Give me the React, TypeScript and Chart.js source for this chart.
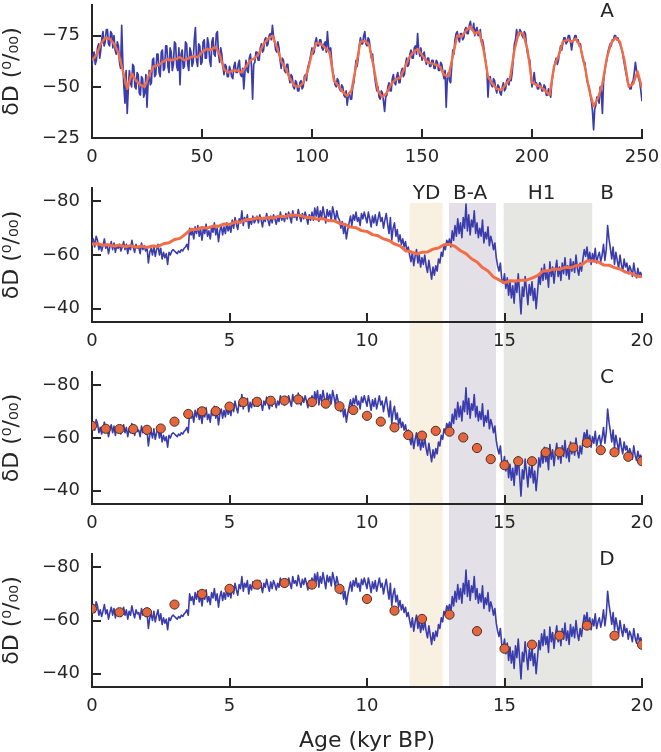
import React, { useEffect, useRef } from "react";
import { Chart, registerables } from "chart.js";

Chart.register(...registerables);

// ---------------- data ----------------
// Panel A: 0–250 kyr record (blue, 0.5 kyr step) and its smoothed curve (orange, 2 kyr step)
const aBlueStep = 0.5;
const aBlue = [
  -60, -66, -67, -61, -63, -69, -71, -64, -68, -74, -77, -70, -72, -78, -78, -71, -70, -77, -76, -69,
  -75, -68, -66, -72, -70, -62, -59, -80, -62, -50, -42, -58, -37, -49, -58, -52, -50, -61, -60, -50,
  -49, -57, -56, -47, -46, -55, -54, -45, -47, -56, -40, -52, -58, -51, -52, -63, -64, -55, -56, -66,
  -66, -57, -55, -67, -68, -58, -59, -70, -70, -60, -57, -69, -67, -58, -61, -72, -71, -60, -58, -69,
  -51, -66, -68, -59, -60, -72, -71, -61, -58, -69, -67, -60, -62, -73, -79, -63, -60, -71, -70, -61,
  -62, -72, -73, -64, -64, -74, -71, -63, -60, -72, -74, -66, -65, -76, -77, -66, -62, -69, -66, -60,
  -56, -61, -60, -55, -55, -60, -58, -55, -54, -60, -62, -57, -57, -61, -63, -56, -55, -59, -49, -57,
  -63, -58, -57, -64, -66, -60, -44, -61, -62, -67, -67, -63, -63, -69, -71, -67, -68, -73, -74, -70,
  -71, -75, -76, -73, -80, -75, -72, -68, -67, -72, -69, -63, -59, -64, -63, -58, -57, -61, -61, -55,
  -52, -56, -55, -50, -49, -53, -52, -48, -48, -52, -53, -49, -50, -55, -56, -53, -59, -61, -63, -66,
  -69, -66, -67, -72, -74, -70, -70, -73, -73, -69, -68, -71, -72, -67, -77, -70, -66, -69, -62, -57,
  -55, -51, -50, -54, -53, -49, -48, -51, -50, -46, -45, -48, -41, -46, -47, -44, -44, -50, -52, -57,
  -63, -60, -64, -70, -74, -71, -71, -75, -77, -71, -70, -74, -73, -68, -64, -66, -60, -55, -51, -48,
  -50, -45, -44, -48, -47, -43, -38, -45, -46, -50, -52, -48, -48, -54, -56, -52, -51, -55, -57, -52,
  -52, -57, -59, -55, -56, -61, -64, -60, -61, -66, -68, -64, -64, -69, -70, -66, -76, -68, -65, -69,
  -63, -66, -67, -63, -61, -64, -64, -60, -60, -63, -63, -59, -59, -63, -62, -58, -58, -62, -61, -57,
  -54, -58, -40, -54, -57, -53, -52, -60, -68, -66, -73, -76, -77, -74, -72, -76, -76, -73, -74, -78,
  -79, -76, -76, -80, -82, -78, -78, -81, -75, -78, -79, -75, -76, -78, -72, -73, -70, -66, -62, -58,
  -45, -54, -55, -51, -50, -54, -53, -49, -47, -51, -50, -47, -46, -50, -52, -48, -49, -53, -54, -51,
  -55, -53, -57, -64, -71, -73, -78, -75, -75, -78, -77, -75, -74, -77, -76, -70, -66, -64, -63, -55,
  -50, -53, -57, -52, -52, -49, -49, -52, -51, -48, -48, -51, -50, -46, -46, -49, -47, -45, -52, -56,
  -59, -62, -64, -61, -63, -67, -70, -68, -71, -74, -74, -71, -72, -75, -75, -72, -68, -72, -73, -75,
  -75, -72, -73, -70, -71, -67, -64, -62, -62, -57, -53, -51, -50, -46, -43, -38, -29, -39, -41, -45,
  -45, -42, -50, -48, -37, -52, -57, -61, -63, -67, -69, -71, -70, -73, -73, -75, -75, -73, -74, -72,
  -71, -69, -68, -64, -61, -58, -55, -52, -51, -49, -49, -52, -53, -57, -62, -58, -56, -54, -52, -48,
  -43,
];
const aOrangeStep = 2;
const aOrange = [
  -63, -65.5, -71, -74, -73.5, -71, -66.5, -58, -49, -56.5,
  -53, -51, -50, -56, -60, -60.5, -62, -63.5, -63, -63.5,
  -64.5, -63, -64, -65, -64.5, -67, -68.5, -68, -69.5, -66,
  -58.5, -57, -58, -58, -57, -60, -63, -64, -66.5, -71,
  -73.5, -75, -69.5, -62.5, -59, -54, -50.5, -50, -52, -57.5,
  -66.5, -71.5, -71, -69, -67, -53, -50.5, -47.5, -45.5, -48.5,
  -60, -72, -72.5, -70.5, -60, -48, -45, -47, -51.5, -53.5,
  -54.5, -59, -64, -67, -68.5, -65.5, -62.5, -61.5, -61, -60,
  -56, -55, -65, -75, -74.5, -77.5, -79.5, -76, -77, -68,
  -55, -51.5, -49, -48.5, -51, -54, -68, -76.5, -76, -68,
  -52, -51, -50, -48, -46, -60, -65, -72, -73, -72,
  -73.5, -69.5, -60, -48.5, -40.5, -44.5, -51.5, -64, -71.5, -74,
  -72, -63, -50, -51.5, -57.5, -49.5,
];
const aXTicks = [0, 50, 100, 150, 200, 250];
const aYTicks = [-75, -50, -25];

// Panels B–D: 0–20 kyr record (blue, 0.05 kyr step)
const bBlueStep = 0.05;
const bBlue = [
  -64.5, -66, -63, -67, -65.5, -62, -64, -61.5, -63.5, -66, -62.5, -64, -60.5, -63, -65, -62, -64.5, -61, -63.5, -62.5,
  -64, -61.5, -63, -65, -62, -64, -60.5, -63.5, -62, -65.5, -63, -61, -64, -62.5, -63, -60.5, -64.5, -62, -63.5, -61.5,
  -63, -57, -61, -62.5, -60, -63.5, -59.5, -62, -64, -60, -62.5, -58.5, -61, -59, -60.5, -56.5, -61, -60, -61.5, -62,
  -61.5, -61, -60.5, -61.5, -61, -62, -61.5, -62.5, -63, -64, -62, -70, -67.5, -69, -66, -70.5, -68, -71, -67, -69.5,
  -65.5, -70, -68, -71.5, -67, -69, -66, -70.5, -68.5, -72, -67.5, -70, -65, -69, -71, -67.5, -70.5, -68, -72, -69,
  -71, -68.5, -73, -70, -74, -71.5, -69.5, -73.5, -72, -76.5, -71, -74, -72.5, -75, -70, -73.5, -71.5, -74.5, -72, -73,
  -74.5, -72, -75, -73, -70.5, -74, -72.5, -75.5, -73, -71, -74.5, -72, -75, -73.5, -71.5, -74, -72.5, -76, -73, -74.5,
  -72.5, -75.5, -73.5, -76, -74, -72, -76.5, -74, -75, -73, -77, -74.5, -72.5, -75.5, -73.5, -76, -74, -71.5, -75, -73,
  -76, -73, -77.5, -74.5, -78, -72.5, -76.5, -74, -78, -75, -72, -77, -74.5, -76.5, -73, -78, -75.5, -72.5, -76.5, -74,
  -73, -70, -72.5, -68, -71, -66, -69.5, -72, -74.5, -71, -75, -73, -76, -72.5, -74, -71, -75.5, -73.5, -76, -74,
  -72, -76, -73.5, -70.5, -74.5, -72, -75, -71, -73.5, -76, -72.5, -74, -70, -73, -75.5, -71.5, -68, -74, -65.5, -70,
  -72, -67, -69.5, -65, -67.5, -64, -66, -63, -65, -61.5, -63, -60, -57.5, -61, -56, -59.5, -62, -57, -60, -55.5,
  -59, -56.5, -60, -56, -53.5, -58, -54.5, -51, -55.5, -52.5, -56, -54, -58.5, -57, -61, -59.5, -63.5, -62, -65.5, -64,
  -66, -63, -69, -65.5, -71, -67, -73.5, -68, -72, -66.5, -74, -70, -79, -69, -75, -67.5, -73, -70.5, -76.5, -68,
  -72, -66.5, -70, -67, -73, -64.5, -68.5, -66, -70.5, -63.5, -67, -65, -62, -64.5, -59, -56, -54, -57, -51, -49.5,
  -53, -47.5, -51.5, -45, -50, -44, -48.5, -42, -50.5, -46, -53, -45.5, -38, -48, -44.5, -52, -47, -41.5, -49, -45,
  -50, -43, -47.5, -40, -46, -52.5, -49, -55, -50.5, -56.5, -51, -54, -48, -57.5, -52, -55.5, -49.5, -54.5, -58, -52,
  -55.5, -50.5, -57, -53, -59, -52.5, -56, -51, -58.5, -54, -57.5, -53.5, -60, -55, -52.5, -57, -54, -58.5, -62, -59.5,
  -63, -58, -61, -56.5, -60.5, -58, -62.5, -57, -59.5, -61, -57.5, -60, -64, -58, -62, -71, -66, -62.5, -58.5, -63,
  -56.5, -61, -58, -55, -60, -56.5, -54, -58.5, -55.5, -57, -53, -56, -54.5, -52, -57, -53.5, -51.5, -55, -52.5, -53.5,
  -52,
];
// Panel B smoothed curve (orange, 0.2 kyr step)
const bOrangeStep = 0.2;
const bOrange = [
  -64, -64.3, -63.6, -63.8, -63.3,
  -63.7, -63.1, -63.5, -62.9, -63.3,
  -62.8, -63.4, -63.2, -64.2, -64.6,
  -65.8, -66.2, -67.8, -69.6, -69.5,
  -70.3, -70, -70.8, -70.7, -71.6,
  -71.4, -72.3, -72.3, -73.2, -73.2,
  -73.9, -73.5, -74, -73.8, -74.5,
  -74.2, -74.9, -74.8, -74.7, -74,
  -74, -73.3, -73.6, -72.8, -72.8,
  -71.8, -71.4, -70.4, -70.2, -69.1,
  -68.8, -67.6, -67.2, -66, -65.4,
  -64.1, -63.4, -61.6, -61.2, -60.4,
  -61, -61.1, -62.2, -62.6, -63.8,
  -64, -63.2, -61.6, -60.5, -58.6,
  -57.4, -55.3, -54, -51.8, -50.7,
  -49.6, -50.4, -50.3, -50.6, -50.6,
  -51.4, -52.3, -54, -54.1, -54.8,
  -54.6, -55.4, -55.2, -56, -56.3,
  -57.8, -57.8, -57.5, -56.3, -56.2,
  -55.3, -54.8, -53.6, -53.2, -52.2,
  -51.9,
];
// Panel C points (every 0.5 kyr)
const cDotAges = [
  0, 0.5, 1, 1.5, 2, 2.5, 3, 3.5, 4, 4.5, 5, 5.5, 6, 6.5, 7, 7.5, 8, 8.5, 9, 9.5,
  10, 10.5, 11, 11.5, 12, 12.5, 13, 13.5, 14, 14.5, 15, 15.5, 16, 16.5, 17, 17.5, 18, 18.5, 19, 19.5, 20,
];
const cDotVals = [
  -64.6, -63.5, -63.4, -63.4, -63.1, -63.6, -66.2, -69.1, -70.1, -70.2, -71.9, -73.6, -73.7, -74.1, -74.2, -74.6, -73.6, -73.0, -72.0, -70.6,
  -68.4, -66.2, -64.0, -61.1, -60.9, -62.7, -62.4, -60.2, -56.2, -52.0, -49.7, -51.2, -51.2, -54.6, -54.6, -56.4, -58.2, -55.4, -54.6, -52.9, -51.2,
];
// Panel D points (every 1 kyr)
const dDotAges = [0, 1, 2, 3, 4, 5, 6, 7, 8, 9, 10, 11, 12, 13, 14, 15, 16, 17, 18, 19, 20];
const dDotVals = [
  -64.4, -63.1, -63.1, -66.0, -70.0, -71.9, -73.5, -74.1, -73.5, -71.9,
  -68.1, -63.7, -60.6, -62.2, -56.0, -49.4, -50.9, -54.3, -58.1, -54.3, -50.9,
];
const bXTicks = [0, 5, 10, 15, 20];
const bYTicks = [-80, -60, -40];

// Climate events (kyr BP)
const eventLabels = ["YD", "B-A", "H1"];
const eventStarts = [11.55, 12.98, 14.97];
const eventEnds = [12.75, 14.69, 18.19];
const eventLabelAt = [12.17, 13.75, 16.35];

// ---------------- styles ----------------
const FONT = "'DejaVu Sans', 'Liberation Sans', sans-serif";
const INK = "#262626";
const BLUE = "#3a3cac";
const ORANGE = "#f26d45";
const DOT_FILL = "#e7653d";
const DOT_EDGE = "#4a3426";
const EVENT_COLORS = ["#f8f0e1", "#e3e0e7", "#e6e6e3"];
const TICK_LEN = 9;
const PLOT_LEFT = 92;
const PAD_RIGHT = 19;
const SHADE_TOP = 15;

type Pt = { x: number; y: number };
const series = (vals: number[], step: number): Pt[] =>
  vals.map((v, i) => ({ x: Math.round(i * step * 1000) / 1000, y: v }));
const pairs = (xs: number[], ys: number[]): Pt[] => xs.map((x, i) => ({ x, y: ys[i] }));
const fmt = (v: number) => (v < 0 ? "\u2212" + Math.abs(v) : String(v));

const lineDs = (data: Pt[], color: string, width: number, order: number) => ({
  type: "line",
  data,
  borderColor: color,
  borderWidth: width,
  pointRadius: 0,
  tension: 0,
  borderJoinStyle: "round",
  order,
});
const dotDs = (data: Pt[]) => ({
  type: "line",
  data,
  showLine: false,
  pointRadius: 4.6,
  pointBackgroundColor: DOT_FILL,
  pointBorderColor: DOT_EDGE,
  pointBorderWidth: 1,
  order: 0,
});

type Shade = "none" | "first" | "middle" | "last";
interface PanelProps {
  top: number;
  height: number;
  padTop: number;
  xHeight: number;
  xMax: number;
  yMin: number;
  yMax: number;
  xTicks: number[];
  yTicks: number[];
  datasets: any[];
  letter: string;
  letterDy: number;
  shade: Shade;
  eventText: boolean;
  xTitle: boolean;
}

function Panel(p: PanelProps) {
  const ref = useRef<HTMLCanvasElement>(null);
  useEffect(() => {
    const canvas = ref.current;
    if (!canvas) return;
    const decor = {
      id: "decor",
      beforeDraw(chart: any) {
        if (p.shade === "none") return;
        const { ctx, chartArea: ca } = chart;
        const xs = chart.scales.x;
        const yTop = p.shade === "first" ? ca.top + SHADE_TOP : 0;
        const yBot = p.shade === "last" ? ca.bottom : chart.height;
        ctx.save();
        eventStarts.forEach((s, i) => {
          const x0 = xs.getPixelForValue(s);
          const x1 = xs.getPixelForValue(eventEnds[i]);
          ctx.fillStyle = EVENT_COLORS[i];
          ctx.fillRect(x0, yTop, x1 - x0, yBot - yTop);
        });
        ctx.restore();
      },
      afterDatasetsDraw(chart: any) {
        const { ctx, chartArea: ca } = chart;
        const xs = chart.scales.x;
        const ys = chart.scales.y;
        ctx.save();
        ctx.strokeStyle = INK;
        ctx.lineWidth = 2;
        ctx.beginPath();
        p.xTicks.forEach((v) => {
          const px = Math.round(xs.getPixelForValue(v));
          ctx.moveTo(px, ca.bottom);
          ctx.lineTo(px, ca.bottom - TICK_LEN);
        });
        p.yTicks.forEach((v) => {
          const py = Math.round(ys.getPixelForValue(v));
          ctx.moveTo(ca.left, py);
          ctx.lineTo(ca.left + TICK_LEN, py);
        });
        ctx.stroke();
        ctx.restore();
      },
      afterDraw(chart: any) {
        const { ctx, chartArea: ca } = chart;
        const xs = chart.scales.x;
        ctx.save();
        ctx.font = `20px ${FONT}`;
        ctx.fillStyle = INK;
        ctx.textAlign = "center";
        ctx.textBaseline = "alphabetic";
        const base = ca.top + p.letterDy;
        ctx.fillText(p.letter, ca.right - 35, base);
        if (p.eventText) {
          eventLabels.forEach((t, i) => {
            ctx.fillText(t, xs.getPixelForValue(eventLabelAt[i]), base);
          });
        }
        ctx.restore();
      },
    };
    const chart = new Chart(canvas, {
      type: "line",
      data: { datasets: p.datasets },
      plugins: [decor],
      options: {
        animation: false,
        responsive: false,
        events: [],
        layout: { padding: { top: p.padTop, right: PAD_RIGHT, left: 0, bottom: 0 } },
        plugins: { legend: { display: false }, tooltip: { enabled: false } },
        scales: {
          x: {
            type: "linear",
            min: 0,
            max: p.xMax,
            grid: { display: false, drawTicks: false },
            border: { display: true, color: INK, width: 2 },
            ticks: {
              padding: 9,
              color: INK,
              font: { family: FONT, size: 18 },
              maxRotation: 0,
              autoSkip: false,
              callback: (v: any) => fmt(Number(v)),
            },
            afterBuildTicks: (s: any) => {
              s.ticks = p.xTicks.map((v) => ({ value: v }));
            },
            afterFit: (s: any) => {
              s.height = p.xHeight;
              s.paddingLeft = 0;
              s.paddingRight = 0;
              s.paddingTop = 0;
              s.paddingBottom = 0;
            },
            title: {
              display: p.xTitle,
              text: "Age (kyr BP)",
              color: INK,
              font: { family: FONT, size: 22, lineHeight: 1 },
              padding: { top: 0, bottom: 0 },
            },
          },
          y: {
            type: "linear",
            reverse: true,
            min: p.yMin,
            max: p.yMax,
            grid: { display: false, drawTicks: false },
            border: { display: true, color: INK, width: 2 },
            ticks: {
              padding: 12,
              color: INK,
              font: { family: FONT, size: 18 },
              autoSkip: false,
              callback: (v: any) => fmt(Number(v)),
            },
            afterBuildTicks: (s: any) => {
              s.ticks = p.yTicks.map((v) => ({ value: v }));
            },
            afterFit: (s: any) => {
              s.width = PLOT_LEFT;
              s.paddingLeft = 0;
              s.paddingRight = 0;
              s.paddingTop = 0;
              s.paddingBottom = 0;
            },
            title: {
              display: true,
              text: "\u03B4D (\u2070/\u2080\u2080)",
              color: INK,
              font: { family: FONT, size: 22, lineHeight: 1 },
              padding: { top: 1, bottom: 0 },
            },
          },
        },
      } as any,
    } as any);
    return () => chart.destroy();
  }, []);
  return (
    <canvas
      ref={ref}
      width={661}
      height={p.height}
      style={{ position: "absolute", left: 0, top: p.top, width: 661, height: p.height }}
    />
  );
}

export default function App() {
  const aData = [
    lineDs(series(aOrange, aOrangeStep), ORANGE, 2.4, 0),
    lineDs(series(aBlue, aBlueStep), BLUE, 1.7, 1),
  ];
  const bData = [
    lineDs(series(bOrange, bOrangeStep), ORANGE, 3, 0),
    lineDs(series(bBlue, bBlueStep), BLUE, 1.6, 1),
  ];
  const cData = [dotDs(pairs(cDotAges, cDotVals)), lineDs(series(bBlue, bBlueStep), BLUE, 1.6, 1)];
  const dData = [dotDs(pairs(dDotAges, dDotVals)), lineDs(series(bBlue, bBlueStep), BLUE, 1.6, 1)];
  return (
    <div style={{ position: "fixed", left: 0, top: 0, width: 661, height: 752, background: "#fff", overflow: "hidden" }}>
      <Panel top={0} height={170} padTop={5} xHeight={32} xMax={250} yMin={-90} yMax={-25}
        xTicks={aXTicks} yTicks={aYTicks} datasets={aData} letter="A" letterDy={12} shade="none" eventText={false} xTitle={false} />
      <Panel top={170} height={182} padTop={18} xHeight={30} xMax={20} yMin={-85} yMax={-35}
        xTicks={bXTicks} yTicks={bYTicks} datasets={bData} letter="B" letterDy={11} shade="first" eventText={true} xTitle={false} />
      <Panel top={352} height={182} padTop={20} xHeight={30} xMax={20} yMin={-85} yMax={-35}
        xTicks={bXTicks} yTicks={bYTicks} datasets={cData} letter="C" letterDy={10.5} shade="middle" eventText={false} xTitle={false} />
      <Panel top={534} height={218} padTop={20} xHeight={65} xMax={20} yMin={-85} yMax={-35}
        xTicks={bXTicks} yTicks={bYTicks} datasets={dData} letter="D" letterDy={10.5} shade="last" eventText={false} xTitle={true} />
    </div>
  );
}
